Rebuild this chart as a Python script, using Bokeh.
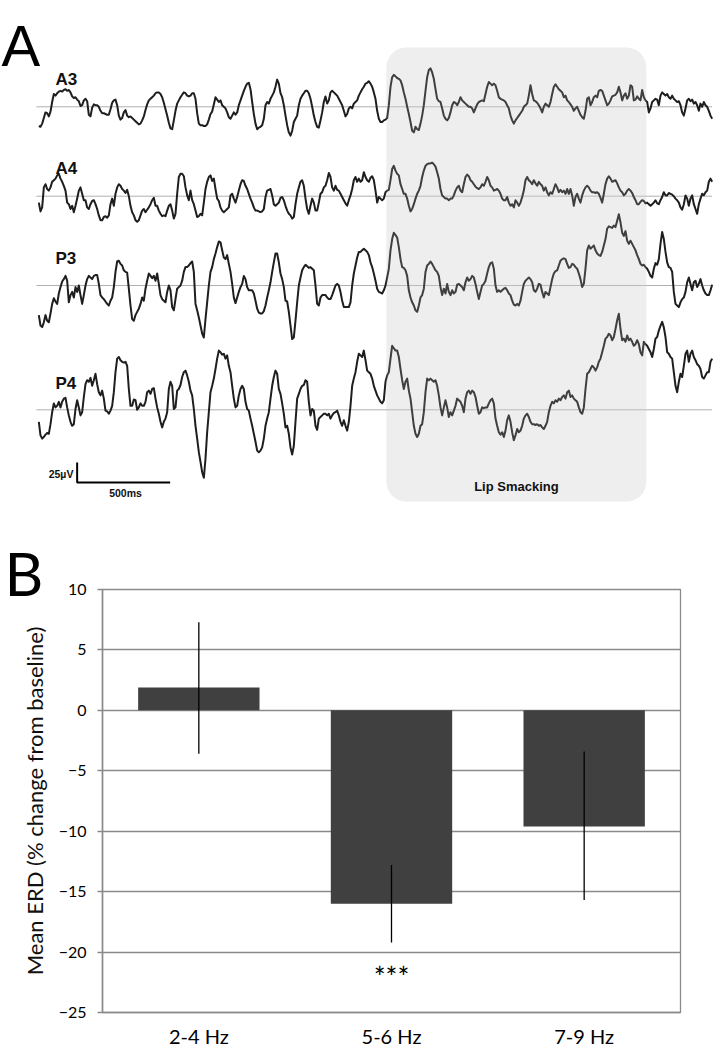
from bokeh.plotting import figure
from bokeh.models import Range1d, FactorRange, FixedTicker, Title
from bokeh.core.properties import value
from bokeh.embed import file_html
from bokeh.resources import INLINE

# ---------------- data : panel A (EEG traces, microvolts, uniform sampling) ----------------
channels = ["A3", "A4", "P3", "P4"]
sample_ms = 500.0 / 93.0 * 5.0 / 3.0   # ~8.96 ms between read-off samples

a3_uv = [
    -24,-25,-21,-14,-7,-8,-12,-6,6,16, 14,17,19,20,19,21,22,20,21,18, 13,11,12,9,7,1,2,8,10,7,
    -10,-12,-1,3,2,2,0,-5,-8,-8, -9,-10,-10,-3,5,8,9,2,-11,-16, -14,-7,-4,-11,-13,-12,-14,-16,-18,-20,
    -22,-21,-17,-12,-4,3,8,10,12,14, 17,18,18,16,12,5,-3,-11,-20,-27, -28,-17,-5,4,8,12,15,18,17,14,
    13,14,17,17,10,-8,-21,-23,-23,-24, -24,-22,-16,-9,-6,3,12,9,6,8, 2,0,-2,-7,-13,
    -15,-11,-7,-10,-7,2,8,14,20,25, 29,30,22,6,-9,-21,-28,-26,-25,-23, -15,2,6,4,10,14,18,25,34,29,
    17,12,2,-11,-23,-32,-36,-30,-19,-15, -11,2,10,14,17,20,20,17,10,0, -11,-19,-25,-26,-17,-7,6,13,4,8,
    18,20,18,16,14,10,6,2,-5,-12, -9,-2,0,-2,4,6,8,14,18,22, 25,29,30,32,29,25,18,10,-5,-15,
    -19,-19,-17,-16,-14,2,25,37,40,38, 36,35,33,27,18,10,0,-9,-19,-30, -32,-25,-28,-29,-21,-11,2,20,37,46,
    48,43,35,22,10,7,6,-2,-11,-15, -17,-14,-7,2,6,5,2,6,
    12,8,6,4,2,0,0,-2,-7,-2, 3,6,7,8,7,16,25,31,29,27, 29,27,20,12,10,9,8,6,2,-2,
    -11,-17,-21,-17,-14,-11,-8,-5,0,2, 4,14,27,16,8,7,5,2,-2,-7, 0,4,2,0,6,16,25,28,25,22,
    20,18,12,14,8,6,3,0,-5,-2, 0,-5,-10,-13,-15,-5,10,12,2,6, 12,14,12,20,21,20,14,8,2,4,
    8,13,14,15,18,25,18,8,14,17, 10,14,27,25,8,9,13,10,8,21, 12,8,6,-7,-2,6,8,10,9,2,
    14,18,16,14,16,12,10,14,10,8, 6,7,2,-7,-11,-2,8,10,7,9, 4,6,2,-5,4,0,6,2,0,-5,-11,-15,
]

a4_uv = [
    -8,-19,-14,11,15,9,7,11,18,20, 22,26,28,22,18,13,7,-8,-10,-16, -12,-20,-12,-3,7,11,3,-5,-5,-14,
    -16,-10,-6,-5,-10,-16,-24,-30,-30,-26, -25,-27,-24,-10,-3,-12,3,11,15,13, 9,7,4,8,0,-12,-20,-24,-30,-32,
    -30,-24,-18,-16,-20,-17,-14,-10,-5,-2, -12,-12,-18,-22,-25,-24,-25,-18,-12,-10, -18,-28,-22,3,24,28,28,25,11,1,
    -5,7,-5,-10,-18,-26,-25,-22,-24,-8, 9,18,24,26,19,22,9,-3,-6,-14, -18,-20,-18,-16,-14,
    1,3,-3,-8,-1,7,15,20,19,13, 9,3,-3,-8,-14,-18,-18,-19,-20,-19, -16,-1,7,8,9,1,-10,-12,-10,-8,
    -2,-1,-5,-12,-18,-22,-24,-28,-26,-10, 3,11,18,20,13,-3,-16,-22,-12,-3, -8,-18,-18,-8,3,5,11,13,20,29,
    24,11,7,13,8,7,3,-1,-5,-9, -12,-5,1,9,20,24,18,22,18,20, 30,24,20,18,23,25,20,7,-8,-1,
    -3,-5,-3,5,7,8,20,34,38,32, 28,26,15,9,3,3,-3,-12,-19,-16, -10,-3,3,7,13,24,32,38,40,41,
    41,42,40,37,30,22,9,1,-1,-3, -3,-5,-3,-3,1,7,11,13,
    7,5,15,24,27,25,20,18,15,12, 10,9,11,15,13,18,24,20,13,11, 7,8,9,7,3,-3,-5,-5,-1,-8,
    -12,-10,-14,-5,-8,-12,-8,-1,7,20, 24,20,18,15,20,16,13,18,15,13, 7,11,5,1,5,3,9,15,11,5,
    8,5,7,3,9,3,9,1,-12,-1, 3,-3,-8,1,7,11,13,11,7,5, 5,4,5,3,-2,-8,3,15,22,25,
    22,18,19,20,16,11,7,5,1,3, 7,9,7,4,-1,-5,-10,-10,-7,-5, -6,-9,-8,-10,-12,-10,-8,-5,-9,-10,
    -5,-1,5,1,1,4,3,2,0,-3, -5,-8,-14,-17,-10,1,-3,-12,-3,1, -10,-16,-22,-10,-3,3,1,5,7,18,22,18,
]

p3_uv = [
    -37,-50,-52,-46,-37,-44,-46,-35,-23,-16, -20,-23,-10,-2,5,8,12,6,-21,-12, -8,-15,-2,-8,0,-12,-23,-12,0,8,
    12,10,8,12,13,13,2,-12,-15,-17, -20,-23,-25,-19,-15,-2,17,30,31,27, 25,19,17,16,-4,-25,-42,-44,-37,-33,
    -29,-23,-15,-19,-4,6,15,12,9,12, 6,15,2,-12,-17,-19,-21,-8,0,-6, -27,-31,-17,-4,-2,0,6,17,23,23,
    25,28,30,17,-23,-31,-40,-50,-60,-65, -42,-21,0,17,23,33,40,48,55,54, 44,35,33,38,27,
    17,2,-15,-22,-15,-8,-2,2,12,8, -2,-6,-6,-6,-10,-19,-29,-34,-35,-35, -32,-25,-15,-6,4,17,29,40,40,29,
    15,8,-2,-19,-20,-33,-50,-67,-65,-44, -21,0,10,19,23,26,24,22,23,21, 19,0,-23,-25,-15,-12,-12,-12,-15,-17,
    -17,-12,-6,0,2,0,-8,-19,-27,-27, -27,-27,-21,0,15,25,35,42,42,44, 46,44,42,38,29,23,15,6,-4,-8,
    -9,-10,-6,0,10,21,44,58,66,63, 60,48,33,23,22,19,12,-6,-15,-21, -25,-31,-33,-25,-15,-12,-4,17,25,27,
    30,27,23,19,17,12,-2,-12,-4,-10, 2,-8,-12,-6,-10,-8,1,2,
    0,-2,-6,4,10,6,8,12,10,2, -8,-17,-8,0,2,6,15,23,28,29, 21,0,-8,-6,-8,-6,-4,-3,-6,-10,
    -12,-19,-24,-25,-23,-25,-19,-8,2,6, 8,10,8,4,-6,-8,-4,2,1,-8, -15,-8,-10,-12,-2,8,15,18,19,25,
    31,33,34,33,27,22,23,27,26,23, 21,15,8,-2,2,21,44,50,46,48, 50,44,40,38,37,42,50,58,71,74,
    73,72,75,73,81,89,79,66,62,68, 56,52,56,52,48,44,38,33,27,25, 26,23,21,17,12,10,21,28,26,33,
    52,67,58,42,29,23,22,17,-8,-23, -25,-27,-21,-17,-15,-8,4,10,2,-6, 4,6,-2,2,8,0,-6,-10,-12,-12,-6,1,
]

p4_uv = [
    -15,-32,-36,-34,-31,-29,-30,-18,-3,8, 3,5,10,3,10,14,15,3,-7,-15, -20,-18,1,12,3,-7,-3,16,32,37,
    35,40,30,37,45,32,22,18,24,14, -1,-2,-5,-1,5,22,47,64,66,62, 60,59,60,55,26,5,5,13,12,0,
    3,8,5,5,10,22,24,20,26,27, 14,3,-5,-15,-22,-15,-11,-3,26,35, 30,1,3,24,26,31,41,47,49,43,
    35,24,18,1,-20,-36,-53,-65,-78,-85, -61,-28,-3,22,30,39,51,64,74,72, 69,70,64,68,55,
    47,30,14,3,5,18,26,30,26,10, 1,-1,-11,-20,-30,-40,-51,-53,-51,-47, -36,-20,-11,-3,14,30,41,49,45,26,
    20,8,-5,-22,-20,-30,-47,-56,-45,-15, 14,20,26,30,31,37,35,10,-7,1, -1,-20,-25,-11,-9,-7,-5,-5,-7,-5,
    -11,-7,-4,-3,-1,-7,-15,-20,-13,-20, -26,-15,5,30,39,47,60,70,68,66, 74,62,49,47,45,39,30,24,18,14,
    10,8,12,35,43,47,64,80,77,74, 74,66,51,37,26,35,39,24,14,-3, -20,-30,-34,-30,-20,-18,-3,22,39,37,
    39,37,35,37,30,18,3,-7,3,12, 3,-9,-3,-7,-1,5,14,12,
    10,5,-3,14,22,24,20,24,22,16, 5,-5,-3,3,2,3,3,8,12,14, 8,-11,-20,-28,-31,-28,-34,-26,-13,-7,
    -15,-28,-38,-32,-24,-28,-26,-20,-11,-7, -5,-9,-15,-18,-18,-19,-18,-20,-19,-22, -24,-20,-15,-3,5,10,8,12,10,14,
    12,16,18,14,22,24,16,18,14,12, 10,3,-3,-5,3,26,45,47,51,55, 53,49,53,60,64,72,80,89,91,95,
    93,87,91,101,112,120,101,87,89,85, 93,87,89,85,80,82,87,82,72,68, 85,82,80,76,72,66,76,89,91,99,
    105,110,103,91,72,70,66,64,47,30, 22,35,45,41,55,70,74,60,70,74, 66,62,57,55,51,41,39,43,47,47,60,64,
]

lip_smacking_ms = [1869, 3266]     # start / end of the lip-smacking epoch
scalebar_ms = 500
scalebar_uv = 25

# ---------------- data : panel B (ERD bar chart) ----------------
freq_bands = ["2-4 Hz", "5-6 Hz", "7-9 Hz"]
erd_mean = [1.9, -16.0, -9.6]
erd_err_low = [-3.6, -19.2, -15.7]
erd_err_high = [7.3, -12.8, -3.4]
y_ticks = [-25, -20, -15, -10, -5, 0, 5, 10]
significance = ["", "***", ""]

# ---------------- panel A ----------------
UV_PER_PX = 1.25
PX_PER_MS = 93.0 / 500.0
A_W, A_H = 716, 510
x_left = -38.33 / PX_PER_MS

pa = figure(width=A_W, height=A_H, output_backend="svg", toolbar_location=None,
            x_range=Range1d(x_left, x_left + A_W / PX_PER_MS),
            y_range=Range1d(-A_H * UV_PER_PX, 0),
            min_border=0, x_axis_location=None, y_axis_location=None)
pa.grid.visible = False
pa.outline_line_color = None

row_px = [106.3, 195.7, 285.0, 409.3]
offsets = [-r * UV_PER_PX for r in row_px]
box_top = -47 * UV_PER_PX
box_bottom = -501 * UV_PER_PX

pa.quad(left=[lip_smacking_ms[0]], right=[lip_smacking_ms[1]], top=[box_top], bottom=[box_bottom],
        fill_color="#ebebeb", line_color=None, border_radius=20)

traces = [a3_uv, a4_uv, p3_uv, p4_uv]
for uv, off in zip(traces, offsets):
    t = [i * sample_ms for i in range(len(uv))]
    pa.line(x=[t[0] - 1.5 * sample_ms, t[-1]], y=[off, off], line_color="#b0b0b0", line_width=1)
    pa.line(x=t, y=[off + v for v in uv], line_color="#1e1e1e", line_width=2, line_join="round")

# light veil over the epoch so the traces look greyer inside it
pa.quad(left=[lip_smacking_ms[0]], right=[lip_smacking_ms[1]], top=[box_top], bottom=[box_bottom],
        fill_color="white", fill_alpha=0.15, line_color=None, border_radius=20)

label_rows = [79.0, 168.3, 257.8, 382.8]
pa.text(x=[89.6] * 4, y=[-r * UV_PER_PX for r in label_rows], text=channels,
        text_font=value("Liberation Sans"), text_font_style="bold", text_font_size="17px",
        text_baseline="middle", text_align="left", text_color="#111111")

# scale bar
sb_x0 = 206
sb_y0 = -482 * UV_PER_PX
pa.line(x=[sb_x0, sb_x0, sb_x0 + scalebar_ms], y=[sb_y0 + scalebar_uv, sb_y0, sb_y0],
        line_color="black", line_width=2)
pa.text(x=[186], y=[-473.5 * UV_PER_PX], text=["25µV"],
        text_font=value("Liberation Sans"), text_font_style="bold", text_font_size="10.5px",
        text_baseline="middle", text_align="right", text_color="#111111")
pa.text(x=[466], y=[-492.5 * UV_PER_PX], text=["500ms"],
        text_font=value("Liberation Sans"), text_font_style="bold", text_font_size="10.5px",
        text_baseline="middle", text_align="center", text_color="#111111")
pa.text(x=[sum(lip_smacking_ms) / 2], y=[-486 * UV_PER_PX], text=["Lip Smacking"],
        text_font=value("Liberation Sans"), text_font_style="bold", text_font_size="13px",
        text_baseline="middle", text_align="center", text_color="#111111")
pa.text(x=[x_left + 1.0 / PX_PER_MS], y=[-45 * UV_PER_PX], text=["A"],
        text_font=value("Liberation Sans"), text_font_size="58px",
        text_baseline="alphabetic", text_align="left", text_color="black")

# ---------------- panel B ----------------
B_W, B_H = 716, 540
title_b = Title(text="B", align="left", offset=-98, standoff=-38, vertical_align="bottom",
                text_font="Lato", text_font_size="60px", text_font_style="normal",
                text_color="black")
pb = figure(width=B_W, height=B_H, output_backend="svg", toolbar_location=None,
            x_range=FactorRange(*freq_bands, range_padding=0), y_range=Range1d(-25, 10),
            min_border_left=102, min_border_right=36, min_border_top=79, min_border_bottom=37,
            title=title_b)

pb.vbar(x=freq_bands, top=erd_mean, bottom=0, width=0.63, fill_color="#404040", line_color=None)
pb.segment(x0=freq_bands, y0=erd_err_low, x1=freq_bands, y1=erd_err_high,
           line_color="black", line_width=1.3)
pb.text(x=freq_bands, y=[-22.1] * 3, text=significance, text_font=value("Lato"),
        text_font_size="28px", text_align="center", text_baseline="middle", text_color="black")

grey = "#8a8a8a"
pb.xgrid.visible = False
pb.ygrid.grid_line_color = grey
pb.ygrid.grid_line_width = 1.3
pb.outline_line_color = grey
pb.outline_line_width = 1.3

pb.yaxis.ticker = FixedTicker(ticks=y_ticks)
pb.yaxis.major_tick_out = 5
pb.yaxis.major_tick_in = 0
pb.yaxis.minor_tick_out = 0
pb.yaxis.minor_tick_in = 0
pb.yaxis.axis_line_color = grey
pb.yaxis.axis_line_width = 1.5
pb.yaxis.major_tick_line_color = grey
pb.yaxis.major_tick_line_width = 1.5
pb.yaxis.major_label_text_font = "Lato"
pb.yaxis.major_label_text_font_size = "16px"
pb.yaxis.major_label_text_color = "black"
pb.yaxis.major_label_standoff = 11
pb.yaxis.axis_label = "Mean ERD (% change from baseline)"
pb.yaxis.axis_label_text_font = "Lato"
pb.yaxis.axis_label_text_font_size = "22px"
pb.yaxis.axis_label_text_font_style = "normal"
pb.yaxis.axis_label_text_color = "#111111"
pb.yaxis.axis_label_standoff = 8

pb.xaxis.major_tick_out = 0
pb.xaxis.major_tick_in = 0
pb.xaxis.axis_line_color = grey
pb.xaxis.axis_line_width = 1.5
pb.xaxis.major_label_text_font = "Lato"
pb.xaxis.major_label_text_font_size = "20px"
pb.xaxis.major_label_text_color = "black"
pb.xaxis.major_label_standoff = 11

open("out.html", "w").write(file_html([pa, pb], INLINE))
